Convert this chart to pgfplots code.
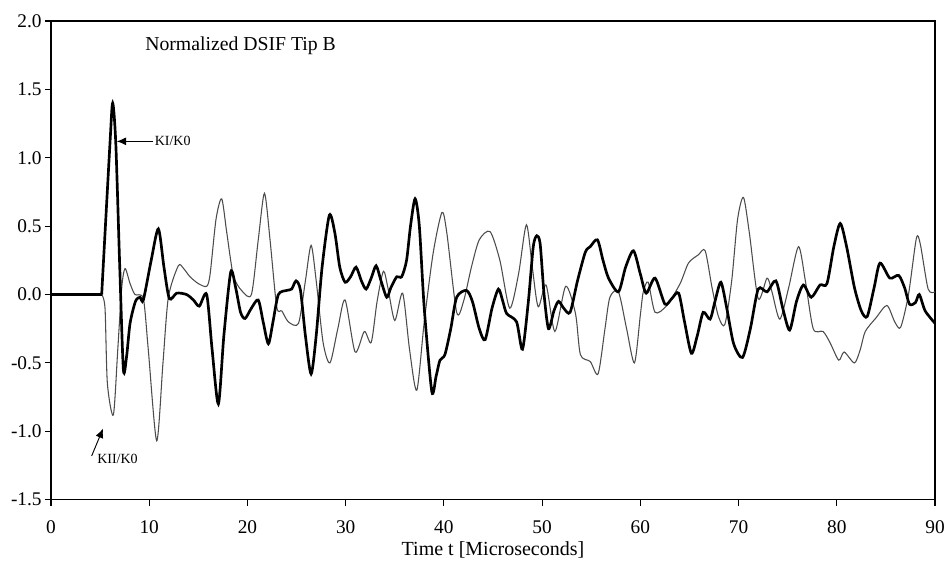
\documentclass[border=0pt]{standalone}
\usepackage{fontspec}
\setmainfont{Liberation Serif}
\usepackage{pgfplots}
\pgfplotsset{compat=1.18}
\usetikzlibrary{arrows.meta}
\begin{document}
\begin{tikzpicture}
\begin{axis}[
 scale only axis, width=663pt, height=359pt,
 xmin=0, xmax=90, ymin=-1.5, ymax=2.0,
 xtick={0,10,...,90}, ytick={-1.5,-1,...,2},
 yticklabel style={xshift=1pt, /pgf/number format/.cd,fixed,fixed zerofill,precision=1},
 /pgf/number format/assume math mode=true,
 tick align=outside, tick pos=left,
 major tick length=4.5pt,
 axis line style={line width=0.9pt},
 tick style={line width=0.8pt, black},
 ticklabel style={font=\fontsize{14.5}{16}\selectfont},
 xticklabel style={yshift=-7.5pt},
 xlabel={Time t [Microseconds]},
 xlabel style={font=\fontsize{15}{17}\selectfont, at={(rel axis cs:0.5,0)}, anchor=base, yshift=-42pt},
]
\addplot[line width=0.8pt, color=black!70] coordinates {(0,0) (5.16,0)};
\addplot[line width=0.8pt, color=black!70, smooth, tension=0.45] coordinates {
(5.16,0) (5.5,-0.10) (5.74,-0.65) (6.35,-0.88) (6.8,-0.4) (7.2,0.05) (7.54,0.19) (8.05,0.08) (8.55,0.0) (9.4,-0.03) (9.9,-0.4) (10.76,-1.07) (11.4,-0.5) (11.95,-0.02) (12.96,0.21) (13.5,0.19) (14.15,0.13) (15.0,0.08) (15.85,0.06) (16.2,0.15) (16.8,0.55) (17.38,0.70) (17.9,0.45) (18.56,0.14) (19.4,0.03) (20.4,0.0) (21.1,0.4) (21.73,0.74) (22.3,0.4) (22.98,-0.09) (23.5,-0.12) (24.17,-0.2) (25.2,-0.21) (25.9,0.1) (26.48,0.36) (27.0,0.1) (27.7,-0.35) (28.4,-0.50) (29.2,-0.25) (29.94,-0.04) (30.96,-0.42) (31.9,-0.27) (32.6,-0.35) (33.2,-0.05) (33.84,0.17) (34.3,0.05) (35.0,-0.19) (35.8,0.01) (36.5,-0.4) (37.24,-0.70) (38.0,-0.2) (38.9,0.3) (39.8,0.60) (40.3,0.45) (41.3,-0.13) (42.0,-0.05) (42.8,0.2) (43.6,0.4) (44.7,0.46) (45.7,0.25) (46.7,-0.10) (47.6,0.15) (48.4,0.51) (49.0,0.2) (49.6,-0.09) (50.4,0.07) (51.3,-0.27) (52.4,0.06) (53.4,-0.14) (53.9,-0.44) (54.9,-0.49) (55.7,-0.58) (56.4,-0.25) (56.9,-0.02) (57.77,0.02) (58.6,-0.25) (59.4,-0.50) (60.0,-0.15) (60.3,0.02) (60.8,0.09) (61.5,-0.13) (62.7,-0.08) (64.05,0.08) (64.9,0.23) (65.9,0.29) (66.6,0.32) (67.3,0.05) (67.95,-0.16) (68.6,-0.22) (69.3,0.1) (69.9,0.55) (70.5,0.71) (71.1,0.45) (72.0,-0.03) (72.9,0.12) (73.4,0.02) (74.2,-0.18) (75.1,0.05) (76.1,0.35) (76.8,0.1) (77.6,-0.25) (78.6,-0.27) (79.3,-0.35) (80.2,-0.48) (80.75,-0.42) (81.8,-0.50) (82.4,-0.4) (82.9,-0.27) (84.0,-0.17) (85.1,-0.08) (85.9,-0.2) (86.5,-0.24) (87.3,0.0) (88.1,0.41) (88.5,0.37) (89.3,0.04) (90,0.02)
};
\addplot[line width=2pt, color=black] coordinates {(0,0) (5.16,0)};
\addplot[line width=2pt, color=black, smooth, tension=0.45] coordinates {
(5.16,0) (6.0,1.1) (6.28,1.40) (6.6,1.1) (7.0,0.2) (7.37,-0.55) (7.7,-0.45) (8.05,-0.21) (8.6,-0.05) (9.06,-0.02) (9.4,-0.04) (10.2,0.25) (10.93,0.48) (11.5,0.2) (12.05,-0.03) (12.8,0.01) (13.8,0.0) (14.5,-0.04) (15.1,-0.085) (15.85,0.0) (16.4,-0.4) (17.04,-0.80) (17.6,-0.3) (18.3,0.165) (18.8,0.05) (19.3,-0.13) (19.76,-0.175) (20.4,-0.1) (21.1,-0.04) (21.6,-0.2) (22.13,-0.36) (22.6,-0.2) (23.15,0.0) (24.0,0.03) (24.5,0.04) (24.95,0.1) (25.4,0.03) (25.9,-0.3) (26.48,-0.58) (27.0,-0.3) (27.6,0.2) (28.34,0.58) (28.9,0.45) (29.4,0.2) (29.94,0.09) (30.5,0.13) (31.06,0.2) (31.6,0.1) (32.08,0.04) (32.6,0.12) (33.1,0.21) (33.6,0.1) (34.18,-0.02) (34.6,0.05) (35.2,0.13) (35.7,0.13) (36.2,0.25) (36.6,0.5) (37.07,0.70) (37.5,0.5) (38.0,-0.1) (38.77,-0.71) (39.2,-0.6) (39.6,-0.48) (40.1,-0.44) (40.7,-0.25) (41.3,-0.02) (42.3,0.03) (42.9,-0.05) (43.6,-0.25) (44.2,-0.33) (44.9,-0.1) (45.55,0.04) (46.0,-0.05) (46.4,-0.14) (47.4,-0.2) (48.0,-0.40) (48.6,-0.05) (49.1,0.35) (49.46,0.43) (49.8,0.37) (50.2,0.0) (50.65,-0.25) (51.2,-0.12) (51.67,-0.05) (52.2,-0.1) (52.85,-0.13) (53.6,0.1) (54.4,0.31) (54.9,0.35) (55.63,0.40) (56.2,0.25) (56.76,0.12) (57.77,0.02) (58.5,0.2) (59.3,0.32) (60.0,0.15) (60.6,0.01) (61.5,0.12) (62.5,-0.07) (63.2,-0.03) (63.9,0.01) (64.5,-0.2) (65.2,-0.43) (65.8,-0.3) (66.4,-0.13) (67.1,-0.18) (67.6,-0.05) (68.2,0.09) (68.8,-0.1) (69.5,-0.36) (70.4,-0.46) (71.2,-0.25) (72.0,0.04) (72.9,0.02) (73.8,0.10) (74.5,-0.1) (75.2,-0.26) (75.9,-0.05) (76.6,0.07) (77.4,-0.02) (78.3,0.07) (79.0,0.08) (79.7,0.35) (80.35,0.52) (81.0,0.35) (81.8,0.05) (82.5,-0.12) (83.1,-0.16) (83.8,0.05) (84.4,0.23) (85.4,0.12) (86.3,0.14) (86.9,0.05) (87.4,-0.07) (88.0,-0.06) (88.4,0.0) (89.0,-0.12) (90,-0.21)
};
\node[anchor=west, inner sep=0pt, font=\fontsize{14.8}{16}\selectfont] at (axis cs:9.57,1.82) {Normalized DSIF Tip B};
\draw[-{Latex[length=7pt,width=6pt]}, line width=0.8pt] (axis cs:10.4,1.12) -- (axis cs:6.69,1.12);
\node[anchor=west, inner sep=1pt, font=\fontsize{10.5}{12}\selectfont] at (axis cs:10.4,1.12) {KI/K0};
\draw[-{Latex[length=7pt,width=6pt]}, line width=0.7pt] (axis cs:4.14,-1.18) -- (axis cs:5.3,-0.98);
\node[anchor=west, inner sep=1pt, font=\fontsize{10.5}{12}\selectfont] at (axis cs:4.55,-1.20) {KII/K0};
\coordinate (O) at (rel axis cs:0,0);
\coordinate (T) at (rel axis cs:1,1);
\end{axis}
\pgfresetboundingbox
\path ([shift={(-38.25pt,-45.75pt)}]O) rectangle ([shift={(6.75pt,15.75pt)}]T);
\end{tikzpicture}
\end{document}
